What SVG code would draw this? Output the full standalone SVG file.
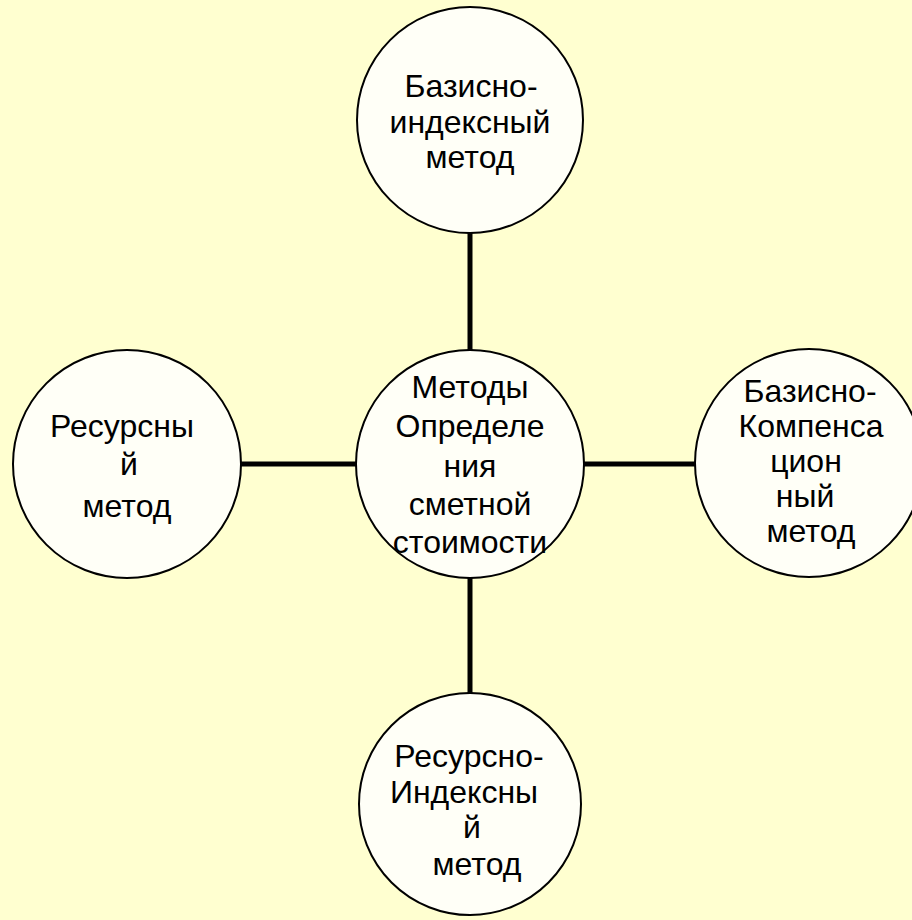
<svg xmlns="http://www.w3.org/2000/svg" width="912" height="920" viewBox="0 0 912 920">
<style>
.bg{fill:#FFFFD0}
.node circle{fill:#FFFFF7;stroke:#000;stroke-width:2}
.conn line{stroke:#000;stroke-width:5}
text{font-family:"Liberation Sans",Arial,sans-serif;font-size:32px;fill:#000;text-anchor:middle}
</style>
<rect class="bg" x="0" y="0" width="912" height="920"/>
<g id="connectors" class="conn">
<line x1="470" y1="233" x2="470" y2="350"/>
<line x1="470" y1="578" x2="470" y2="694"/>
<line x1="241" y1="464" x2="356" y2="464"/>
<line x1="584" y1="464" x2="696" y2="464"/>
</g>
<g id="node-top" class="node">
<circle cx="470" cy="120" r="113"/>
<text x="471" y="97">Базисно-</text>
<text x="470" y="133">индексный</text>
<text x="470" y="168">метод</text>
</g>
<g id="node-center" class="node">
<circle cx="470" cy="464" r="114"/>
<text x="470" y="398">Методы</text>
<text x="470" y="437">Определе</text>
<text x="470" y="477">ния</text>
<text x="470" y="515">сметной</text>
<text x="470" y="553">стоимости</text>
</g>
<g id="node-left" class="node">
<circle cx="127" cy="464" r="114"/>
<text x="122" y="437">Ресурсны</text>
<text x="129" y="475">й</text>
<text x="127" y="517">метод</text>
</g>
<g id="node-right" class="node">
<circle cx="809" cy="463" r="114"/>
<text x="810" y="402">Базисно-</text>
<text x="811" y="437">Компенса</text>
<text x="806" y="472">цион</text>
<text x="805" y="507">ный</text>
<text x="811" y="542">метод</text>
</g>
<g id="node-bottom" class="node">
<circle cx="470" cy="804" r="111"/>
<text x="469" y="767">Ресурсно-</text>
<text x="464" y="803">Индексны</text>
<text x="472" y="838">й</text>
<text x="477" y="875">метод</text>
</g>
</svg>
